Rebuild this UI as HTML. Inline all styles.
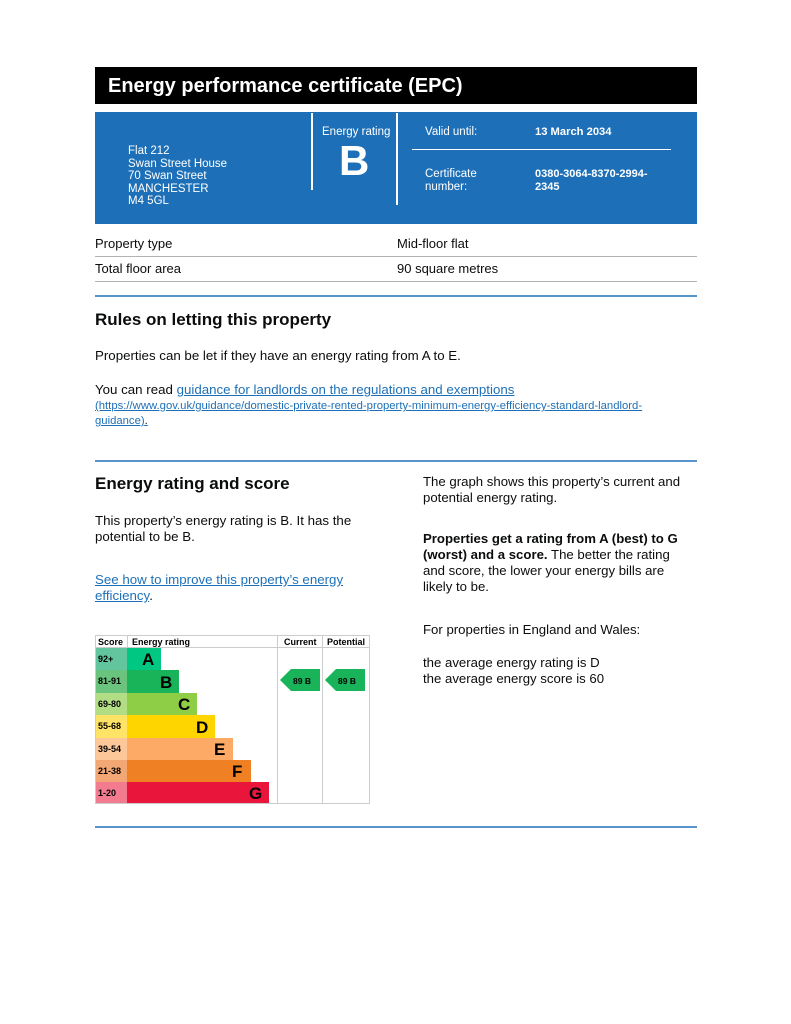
<!DOCTYPE html>
<html><head><meta charset="utf-8"><style>
body{margin:0;width:791px;height:1024px;background:#fff;position:relative;font-family:"Liberation Sans",Arial,sans-serif;color:#0b0c0c;overflow:hidden}
.a{position:absolute;white-space:nowrap;line-height:16px}
.w{color:#fff}
.b{font-weight:bold}
.lk{color:#1d70b8;text-decoration:underline}
.rule{position:absolute;left:95px;width:602px;height:2px;background:#5694ca}
.gl{position:absolute;left:95px;width:602px;height:1px;background:#b1b4b6}
</style></head><body>
<div style="position:absolute;left:95px;top:67px;width:602px;height:37px;background:#000"></div>
<div class="a w b" style="left:108px;top:75px;font-size:20px;line-height:22px">Energy performance certificate (EPC)</div>
<div style="position:absolute;left:95px;top:112px;width:602px;height:112px;background:#1d70b8"></div>
<div style="position:absolute;left:311px;top:113px;width:2px;height:77px;background:#fff"></div>
<div style="position:absolute;left:396px;top:113px;width:2px;height:92px;background:#fff"></div>
<div style="position:absolute;left:412px;top:149px;width:259px;height:1px;background:#fff"></div>
<div class="a w" style="left:128px;top:145px;font-size:11.5px;line-height:12.5px">Flat 212<br>Swan Street House<br>70 Swan Street<br>MANCHESTER<br>M4 5GL</div>
<div class="a w" style="left:322px;top:124px;font-size:11.5px">Energy rating</div>
<div class="a w b" style="left:339px;top:140px;font-size:42px;line-height:42px">B</div>
<div class="a w" style="left:425px;top:124px;font-size:11.5px">Valid until:</div>
<div class="a w b" style="left:535px;top:124px;font-size:11.2px">13 March 2034</div>
<div class="a w" style="left:425px;top:168px;font-size:11.5px;line-height:12.5px">Certificate<br>number:</div>
<div class="a w b" style="left:535px;top:168px;font-size:11px;line-height:12.5px">0380-3064-8370-2994-<br>2345</div>
<div class="a" style="left:95px;top:236px;font-size:13px">Property type</div>
<div class="a" style="left:397px;top:236px;font-size:13px">Mid-floor flat</div>
<div class="gl" style="top:256px"></div>
<div class="a" style="left:95px;top:261px;font-size:13px">Total floor area</div>
<div class="a" style="left:397px;top:261px;font-size:13px">90 square metres</div>
<div class="gl" style="top:281px"></div>
<div class="rule" style="top:295px"></div>
<div class="a b" style="left:95px;top:310px;font-size:17px;line-height:20px">Rules on letting this property</div>
<div class="a" style="left:95px;top:348px;font-size:13.3px">Properties can be let if they have an energy rating from A to E.</div>
<div class="a" style="left:95px;top:382px;font-size:13.3px">You can read <span class="lk">guidance for landlords on the regulations and exemptions</span></div>
<div class="a lk" style="left:95px;top:399px;font-size:11.3px;line-height:15px">(https://www.gov.uk/guidance/domestic-private-rented-property-minimum-energy-efficiency-standard-landlord-<br>guidance)<span style="color:#0b0c0c;text-decoration:none">.</span></div>
<div class="rule" style="top:460px"></div>
<div class="a b" style="left:95px;top:474px;font-size:17px;line-height:20px">Energy rating and score</div>
<div class="a" style="left:95px;top:513px;font-size:13.3px">This property’s energy rating is B. It has the<br>potential to be B.</div>
<div class="a" style="left:95px;top:572px;font-size:13.3px"><span class="lk">See how to improve this property’s energy<br>efficiency</span>.</div>
<div class="a" style="left:423px;top:474px;font-size:13.2px">The graph shows this property’s current and<br>potential energy rating.</div>
<div class="a" style="left:423px;top:531px;font-size:13.2px"><b>Properties get a rating from A (best) to G<br>(worst) and a score.</b> The better the rating<br>and score, the lower your energy bills are<br>likely to be.</div>
<div class="a" style="left:423px;top:622px;font-size:13.2px">For properties in England and Wales:</div>
<div class="a" style="left:423px;top:655px;font-size:13.2px">the average energy rating is D<br>the average energy score is 60</div>
<svg style="position:absolute;left:0;top:0" width="791" height="1024" font-family="Liberation Sans,Arial,sans-serif" font-weight="bold">
<rect x="95.5" y="635.5" width="274" height="168" fill="none" stroke="#ccc"/>
<line x1="95" y1="647.5" x2="369" y2="647.5" stroke="#ccc"/>
<line x1="127.5" y1="636" x2="127.5" y2="647" stroke="#ccc"/>
<line x1="277.5" y1="636" x2="277.5" y2="803" stroke="#ccc"/>
<line x1="322.5" y1="636" x2="322.5" y2="803" stroke="#ccc"/>
<text x="98" y="645" font-size="9">Score</text>
<text x="132" y="645" font-size="9">Energy rating</text>
<text x="284" y="645" font-size="9">Current</text>
<text x="327" y="645" font-size="9">Potential</text>
<g font-size="9">
<rect x="96" y="648" width="31" height="22" fill="#62c59e"/><rect x="127" y="648" width="34" height="22" fill="#00c781"/><text x="98" y="662">92+</text>
<rect x="96" y="670" width="31" height="23" fill="#6ac47e"/><rect x="127" y="670" width="52" height="23" fill="#19b459"/><text x="98" y="684">81-91</text>
<rect x="96" y="693" width="31" height="22" fill="#b2dd84"/><rect x="127" y="693" width="70" height="22" fill="#8dce46"/><text x="98" y="707">69-80</text>
<rect x="96" y="715" width="31" height="23" fill="#ffe366"/><rect x="127" y="715" width="88" height="23" fill="#ffd500"/><text x="98" y="729">55-68</text>
<rect x="96" y="738" width="31" height="22" fill="#fdc79a"/><rect x="127" y="738" width="106" height="22" fill="#fcaa65"/><text x="98" y="752">39-54</text>
<rect x="96" y="760" width="31" height="22" fill="#f3a774"/><rect x="127" y="760" width="124" height="22" fill="#ef8023"/><text x="98" y="774">21-38</text>
<rect x="96" y="782" width="31" height="21" fill="#f37b8f"/><rect x="127" y="782" width="142" height="21" fill="#e9153b"/><text x="98" y="796">1-20</text>
</g>
<g font-size="17">
<text x="142" y="665">A</text><text x="160" y="688">B</text><text x="178" y="710">C</text><text x="196" y="733">D</text><text x="214" y="755">E</text><text x="232" y="777">F</text><text x="249" y="799">G</text>
</g>
<polygon points="280,680 291,669 320,669 320,691 291,691" fill="#19b459"/>
<polygon points="325,680 336,669 365,669 365,691 336,691" fill="#19b459"/>
<text x="293" y="684" font-size="8.5">89  B</text>
<text x="338" y="684" font-size="8.5">89  B</text>
</svg>
<div class="rule" style="top:826px"></div>
</body></html>
